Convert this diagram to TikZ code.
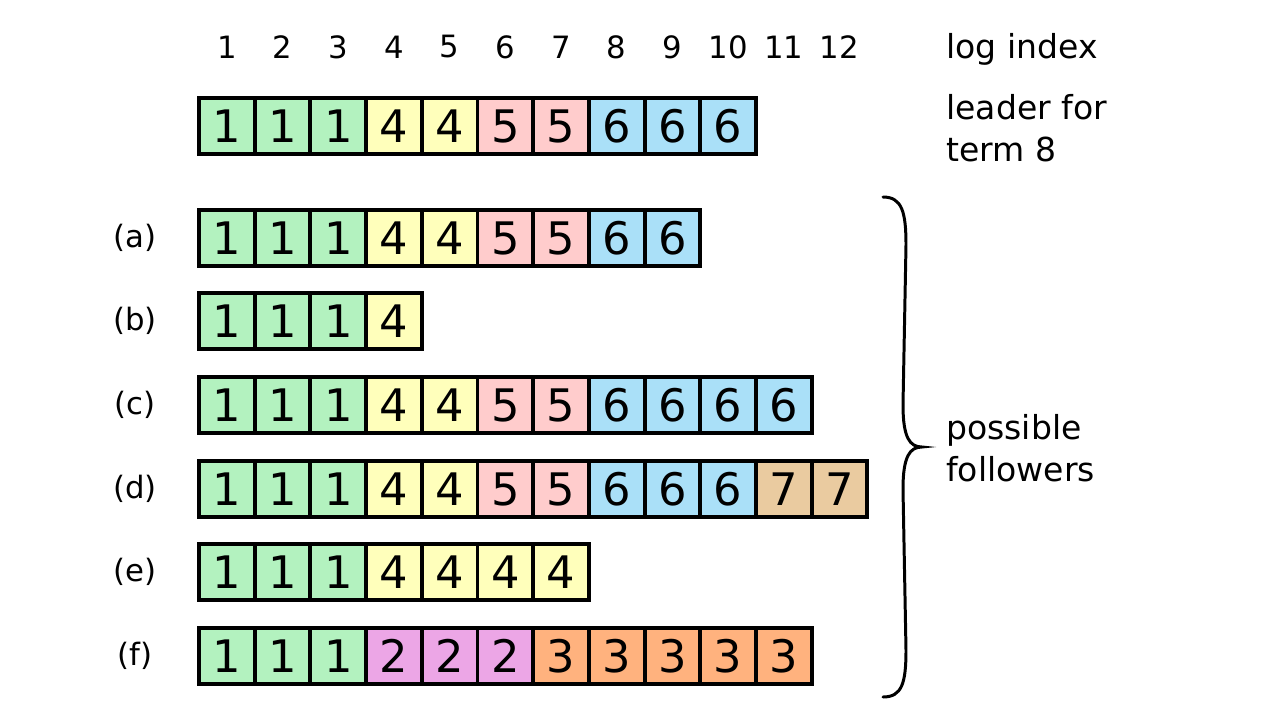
\documentclass[tikz,border=0pt]{standalone}
\usepackage{fontspec}
\setmainfont{DejaVu Sans}
\usepackage{tikz}
\usetikzlibrary{positioning}

\definecolor{term1}{HTML}{B3F2BF}
\definecolor{term2}{HTML}{ECA6E6}
\definecolor{term3}{HTML}{FFB27E}
\definecolor{term4}{HTML}{FFFFBB}
\definecolor{term5}{HTML}{FFCCCC}
\definecolor{term6}{HTML}{AAE0F8}
\definecolor{term7}{HTML}{EACBA0}

\tikzset{
  entry/.style={draw, line width=2.2pt, minimum width=1.114cm, minimum height=1.12cm,
    inner sep=0pt, font=\fontsize{25.5}{25.5}\selectfont},
  lbl/.style={font=\fontsize{17.5}{23.8}\selectfont, inner sep=0pt},
  side/.style={lbl, font=\fontsize{18.8}{23.8}\selectfont, anchor=west, align=left},
}

\begin{document}
\begin{tikzpicture}[x=0.02cm,y=-0.02cm]
\useasboundingbox (0,0) rectangle (1286,708);
%
\foreach \i in {1,...,12}
  \node[lbl] (idx\i) at ({199+55.7*(\i-0.5)},47) {\i};
\node[side] (logidx) at (946,49) {log index};
%
\foreach \row/\y/\terms in {
    L/126/{1,1,1,4,4,5,5,6,6,6},
    a/238/{1,1,1,4,4,5,5,6,6},
    b/321/{1,1,1,4},
    c/405/{1,1,1,4,4,5,5,6,6,6,6},
    d/489/{1,1,1,4,4,5,5,6,6,6,7,7},
    e/572/{1,1,1,4,4,4,4},
    f/656/{1,1,1,2,2,2,3,3,3,3,3}}
{
  \foreach \t [count=\i] in \terms
    \node[entry, fill=term\t] (\row\i) at ({199+55.7*(\i-0.5)},\y) {\t};
}
%
\node[lbl] (la) at (135,238) {(a)};
\node[lbl] (lb) at (135,321) {(b)};
\node[lbl] (lc) at (135,405) {(c)};
\node[lbl] (ld) at (135,489) {(d)};
\node[lbl] (le) at (135,572) {(e)};
\node[lbl] (lf) at (135,656) {(f)};
%
\node[side] (leader) at (946,128) {leader for\\term 8};
\node[side] (followers) at (946,448) {possible\\followers};
%
\draw[line width=1.7pt, line cap=round]
  (883,197) .. controls (902,197) and (906,212) .. (906,245)
  -- (903,405) .. controls (903,438) and (910,447) .. (922,447)
  .. controls (910,447) and (903,456) .. (903,489)
  -- (906,650) .. controls (906,683) and (902,697) .. (883,697);
\end{tikzpicture}
\end{document}
